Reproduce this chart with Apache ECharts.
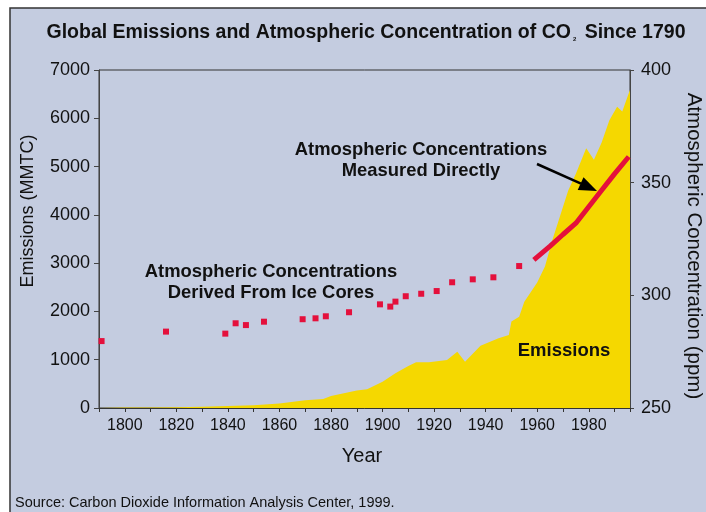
<!DOCTYPE html>
<html>
<head>
<meta charset="utf-8">
<script src="https://cdn.jsdelivr.net/npm/echarts@6/dist/echarts.min.js"></script>
<style>
  html, body { margin: 0; padding: 0; background: #fff; }
  #chart { width: 706px; height: 512px; }
</style>
</head>
<body>
<div id="chart"></div>
<script>
// emissions, million metric tons of carbon
const emissionYears = [1790, 1800, 1810, 1820, 1830, 1840, 1850, 1860, 1870, 1877, 1880, 1890, 1894, 1900, 1905, 1910, 1913, 1918, 1925, 1929, 1932, 1938, 1945, 1949, 1950, 1953, 1955, 1960, 1963, 1966, 1968, 1972, 1975, 1979, 1982, 1985, 1988, 1991, 1993, 1996];
const emissionValues = [0, 8, 10, 14, 25, 40, 55, 95, 160, 185, 250, 360, 390, 545, 720, 870, 946, 946, 994, 1166, 959, 1290, 1443, 1510, 1790, 1890, 2200, 2600, 2930, 3500, 3830, 4500, 4850, 5380, 5140, 5500, 5960, 6240, 6140, 6590];

// ice core concentrations, ppm
const iceYears = [1791, 1816, 1839, 1843, 1847, 1854, 1869, 1874, 1878, 1887, 1899, 1903, 1905, 1909, 1915, 1921, 1927, 1935, 1943, 1953];
const icePpm = [279.7, 283.9, 283.0, 287.6, 286.8, 288.3, 289.4, 289.8, 290.7, 292.5, 296.0, 295.0, 297.2, 299.6, 300.7, 301.9, 305.8, 307.1, 308.0, 313.0];

// measured directly, ppm
const directYears = [1958.7, 1965, 1970, 1975, 1980, 1985, 1990, 1995.5];
const directPpm = [315.7, 321.8, 327, 332, 339.3, 346.6, 353.9, 361.5];

const xTickLabels = [1800, 1820, 1840, 1860, 1880, 1900, 1920, 1940, 1960, 1980];

const font = "'Liberation Sans', Arial, sans-serif";
const bg = '#C4CCE0';
const red = '#E4103C';
const yellow = '#F5D800';

const chart = echarts.init(document.getElementById('chart'));

const zip = (a, b) => a.map((v, i) => [v, b[i]]);

const option = {
  backgroundColor: '#fff',
  animation: false,
  grid: {
    left: 99, top: 70, width: 531, height: 338,
    show: true, borderColor: '#333', borderWidth: 1, backgroundColor: 'transparent'
  },
  xAxis: {
    type: 'value', min: 1790, max: 1996, interval: 10,
    axisLine: { show: true, lineStyle: { color: '#333' } },
    axisTick: { show: true, length: 4, lineStyle: { color: '#333' } },
    splitLine: { show: false },
    axisLabel: {
      margin: 10, color: '#111', fontFamily: font, fontSize: 16,
      formatter: v => xTickLabels.includes(v) ? String(v) : ''
    }
  },
  yAxis: [
    {
      type: 'value', min: 0, max: 7000, interval: 1000,
      axisLine: { show: true, lineStyle: { color: '#444' } },
      axisTick: { show: true, length: 5, lineStyle: { color: '#444' } },
      splitLine: { show: false },
      axisLabel: { margin: 9, color: '#111', fontFamily: font, fontSize: 18, formatter: v => String(v) }
    },
    {
      type: 'value', min: 250, max: 400, interval: 50, position: 'right',
      axisLine: { show: true, lineStyle: { color: '#444' } },
      axisTick: { show: true, length: 4, lineStyle: { color: '#444' } },
      splitLine: { show: false },
      axisLabel: { margin: 11, color: '#111', fontFamily: font, fontSize: 18, formatter: v => String(v) }
    }
  ],
  series: [
    {
      name: 'Emissions', type: 'line', yAxisIndex: 0,
      data: zip(emissionYears, emissionValues),
      symbol: 'none', lineStyle: { width: 0 },
      areaStyle: { color: yellow, opacity: 1 }, z: 1
    },
    {
      name: 'Ice Cores', type: 'scatter', yAxisIndex: 1,
      data: zip(iceYears, icePpm),
      symbol: 'rect', symbolSize: 6, itemStyle: { color: red, opacity: 1 }, z: 3
    },
    {
      name: 'Measured', type: 'line', yAxisIndex: 1,
      data: zip(directYears, directPpm),
      symbol: 'none', lineStyle: { color: red, width: 5 }, z: 3
    }
  ],
  graphic: [
    { type: 'rect', z: -10, shape: { x: 10, y: 8, width: 720, height: 520 },
      style: { fill: bg, stroke: '#333', lineWidth: 1.5 } },
    { type: 'text', x: 366, y: 33, style: {
        text: 'Global Emissions and Atmospheric Concentration of CO{s|2} Since 1790',
        align: 'center', verticalAlign: 'middle',
        font: "bold 19.5px " + font, fill: '#111',
        rich: { s: { fontSize: 6, fontWeight: 'bold', fill: '#111', padding: [12, 3, 0, 2] } }
      } },
    { type: 'text', x: 28, y: 211, rotation: Math.PI / 2, style: {
        text: 'Emissions (MMTC)', align: 'center', verticalAlign: 'middle',
        font: "18px " + font, fill: '#111' } },
    { type: 'text', x: 694, y: 246, rotation: -Math.PI / 2, style: {
        text: 'Atmospheric Concentration (ppm)', align: 'center', verticalAlign: 'middle',
        font: "20.5px " + font, fill: '#111' } },
    { type: 'text', x: 362, y: 456, style: {
        text: 'Year', align: 'center', verticalAlign: 'middle',
        font: "20px " + font, fill: '#111' } },
    { type: 'text', x: 15, y: 503, style: {
        text: 'Source: Carbon Dioxide Information Analysis Center, 1999.', align: 'left', verticalAlign: 'middle',
        font: "14.5px " + font, fill: '#111' } },
    { type: 'text', x: 421, y: 160, style: {
        text: 'Atmospheric Concentrations\nMeasured Directly', align: 'center', verticalAlign: 'middle',
        font: "bold 18.4px " + font, fill: '#111', lineHeight: 21 } },
    { type: 'text', x: 271, y: 282, style: {
        text: 'Atmospheric Concentrations\nDerived From Ice Cores', align: 'center', verticalAlign: 'middle',
        font: "bold 18.4px " + font, fill: '#111', lineHeight: 21 } },
    { type: 'text', x: 564, y: 351, z: 10, style: {
        text: 'Emissions', align: 'center', verticalAlign: 'middle',
        font: "bold 18.5px " + font, fill: '#111' } },
    { type: 'line', z: 10, shape: { x1: 537, y1: 164, x2: 581, y2: 183.6 },
      style: { stroke: '#000', lineWidth: 2.5 } },
    { type: 'polygon', z: 10, shape: { points: [[597, 191], [577.7, 190], [583.5, 177.2]] },
      style: { fill: '#000' } }
  ]
};

chart.setOption(option);
</script>
</body>
</html>
